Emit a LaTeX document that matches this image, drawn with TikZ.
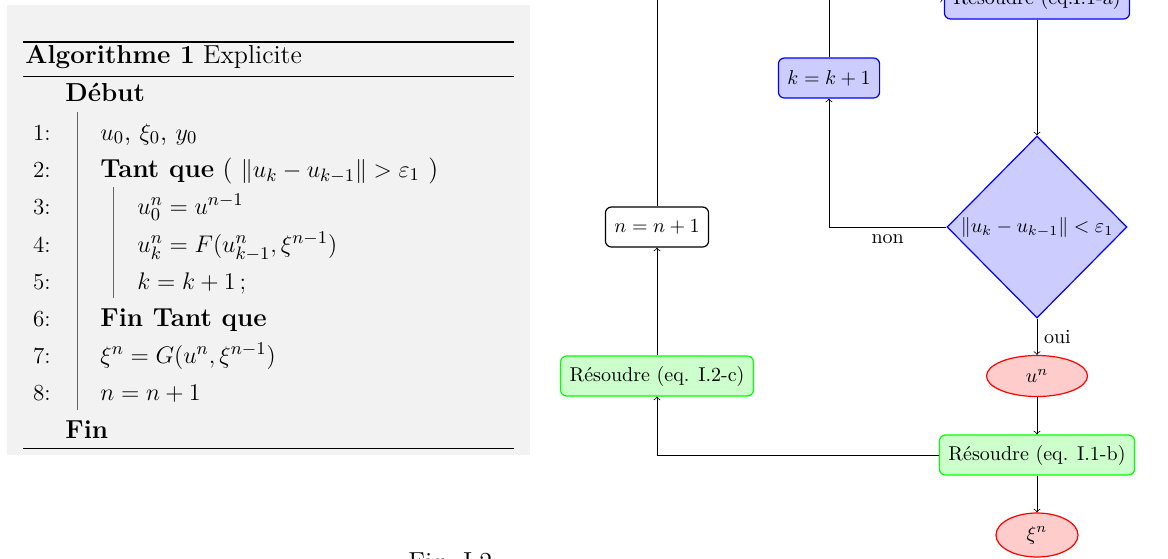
\documentclass[tikz,border=0pt]{standalone}
\usepackage{amsmath}
\usetikzlibrary{shapes.geometric,positioning}
\begin{document}
\begin{tikzpicture}[x=0.5pt, y=-0.5pt,
    algo/.style={anchor=base west, inner sep=0pt, font=\fontsize{13}{15}\selectfont},
    lnum/.style={anchor=base east, inner sep=0pt, font=\fontsize{11.5}{14}\selectfont},
    bloc/.style={draw=black!60, line width=0.5pt},
    boite/.style={rectangle, rounded corners=3pt, semithick, minimum height=20pt, inner sep=4.5pt},
    bleu/.style={boite, draw=blue, fill=blue!20},
    vert/.style={boite, draw=green, fill=green!20},
    blanc/.style={boite, draw=black, fill=white},
    rouge/.style={ellipse, semithick, draw=red, fill=red!20, minimum height=20.5pt},
    test/.style={diamond, aspect=1, semithick, draw=blue, fill=blue!20, inner sep=0pt,
                 minimum width=90pt, minimum height=91pt}]

    \useasboundingbox (0,0) rectangle (1168,558);
    \clip (0,0) rectangle (1168,558);

    % Algorithme
    \fill[black!5] (7,5) rectangle (530,455);
    \draw[line width=1pt] (23,42) -- (514,42);
    \draw[line width=0.5pt] (23,76) -- (514,76);
    \draw[line width=0.5pt] (23,448) -- (514,448);
    \node[algo] (titre) at (25,63) {\textbf{Algorithme 1} Explicite};
    \node[algo] (debut) at (65,101) {\textbf{Début}};
    \node[lnum] (n1) at (51,140) {1:};
    \node[algo] (l1) at (100,140) {$u_0$, $\xi_0$, $y_0$};
    \node[lnum] (n2) at (51,177) {2:};
    \node[algo] (l2) at (100,177) {\textbf{Tant que} ( $\|u_k-u_{k-1}\|>\varepsilon_1$ )};
    \node[lnum] (n3) at (51,214) {3:};
    \node[algo] (l3) at (137,214) {$u_0^n=u^{n-1}$};
    \node[lnum] (n4) at (51,252) {4:};
    \node[algo] (l4) at (137,252) {$u_k^n=F(u_{k-1}^n,\xi^{n-1})$};
    \node[lnum] (n5) at (51,289) {5:};
    \node[algo] (l5) at (137,289) {$k=k+1\,;$};
    \node[lnum] (n6) at (51,326) {6:};
    \node[algo] (l6) at (100,326) {\textbf{Fin Tant que}};
    \node[lnum] (n7) at (51,363) {7:};
    \node[algo] (l7) at (100,363) {$\xi^n=G(u^n,\xi^{n-1})$};
    \node[lnum] (n8) at (51,400) {8:};
    \node[algo] (l8) at (100,400) {$n=n+1$};
    \node[algo] (fin) at (65,438) {\textbf{Fin}};
    % Blocs
    \draw[bloc] (77,112) -- (77,410);
    \draw[bloc] (113,187) -- (113,298);

    % Organigramme
    \node[bleu] (resa) at (1037,-1) {Résoudre (eq.I.1-a)};
    \node[test] (test) at (1037,227) {$\|u_k-u_{k-1}\|<\varepsilon_1$};
    \node[bleu] (kk) at (829,78) {$k=k+1$};
    \node[rouge, minimum width=50.5pt] (un) at (1037,376) {$u^n$};
    \node[vert] (resb) at (1037,455) {Résoudre (eq. I.1-b)};
    \node[rouge, minimum width=41pt] (xin) at (1037,535) {$\xi^n$};
    \node[vert] (resc) at (657,376) {Résoudre (eq. I.2-c)};
    \node[blanc] (nn) at (657,227) {$n=n+1$};
    \coordinate (haut) at (657,-60);

    \draw[->] (resa) -- (test);
    \draw[->] (test) -- node[right] {oui} (un);
    \draw[->] (test) -| node[pos=0.25, below] {non} (kk);
    \draw[->] (kk) |- (resa);
    \draw[->] (un) -- (resb);
    \draw[->] (resb) -- (xin);
    \draw[->] (resb) -| (resc);
    \draw[->] (resc) -- (nn);
    \draw (nn) -- (haut);

    % Legende
    \node[algo] (legende) at (408,570) {Fig. I.2};

\end{tikzpicture}
\end{document}
